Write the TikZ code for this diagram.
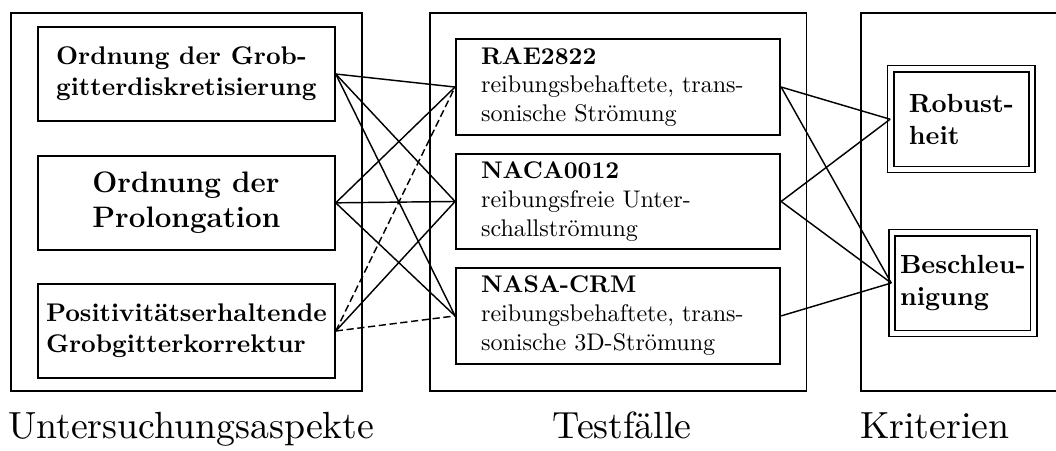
\documentclass[tikz,border=0pt]{standalone}
\usepackage{fontspec}
\usepackage{tikz}
\newfontfamily\titelfont{lmroman10-regular.otf}

\begin{document}
\begin{tikzpicture}[
  frame/.style={draw, line width=0.7pt, minimum width=5.12cm, minimum height=5.52cm},
  aspekt/.style={draw, thick, minimum width=4.33cm, minimum height=1.37cm, align=left, font=\bfseries\fontsize{10.6}{12.8}\selectfont},
  testfall/.style={draw, thick, minimum width=4.73cm, minimum height=1.39cm, text width=4cm, align=left},
  kriterium/.style={draw, semithick, double, double distance=2pt, minimum width=2.06cm, minimum height=1.47cm, align=left, font=\bfseries\fontsize{10.9}{13.4}\selectfont},
  titel/.style={anchor=base, font=\titelfont\fontsize{15.7}{18}\selectfont},
  link/.style={semithick},
  vage/.style={semithick, dash pattern=on 3pt off 1.5pt}
]
  \useasboundingbox (0,0) rectangle (15.41,6.57);

  % Rahmen
  \node[frame] (fa) at (2.72,3.62) {};
  \node[frame, minimum width=5.5cm] (ft) at (9.02,3.62) {};
  \node[frame, minimum width=4.2cm] (fk) at (14.66,3.62) {};

  % Untersuchungsaspekte
  \node[aspekt] (og) at (2.72,5.49) {Ordnung der Grob-\\gitterdiskretisierung};
  \node[aspekt, font=\bfseries\fontsize{12.3}{14.6}\selectfont] (op) at (2.72,3.61) {Ordnung der\\Prolongation};
  \node[aspekt] (ok) at (2.72,1.74) {Positivitätserhaltende\\Grobgitterkorrektur};

  % Testfaelle
  \node[testfall] (rae) at (9.02,5.30) {\textbf{RAE2822}\\reibungsbehaftete, trans-\\sonische Strömung};
  \node[testfall] (naca) at (9.02,3.63) {\textbf{NACA0012}\\reibungsfreie Unter-\\schallströmung};
  \node[testfall] (nasa) at (9.02,1.96) {\textbf{NASA-CRM}\\reibungsbehaftete, trans-\\sonische 3D-Strömung};

  % Kriterien
  \node[kriterium] (rob) at (14.03,4.83) {Robust-\\heit};
  \node[kriterium] (bes) at (14.05,2.44) {Beschleu-\\nigung};

  % Verbindungen
  \draw[link] (og.east) -- (rae.west);
  \draw[link] (og.east) -- (naca.west);
  \draw[link] (og.east) -- (nasa.west);
  \draw[link] (op.east) -- (rae.west);
  \draw[link] (op.east) -- (naca.west);
  \draw[link] (op.east) -- (nasa.west);
  \draw[vage] (ok.east) -- (rae.west);
  \draw[link] (ok.east) -- (naca.west);
  \draw[vage] (ok.east) -- (nasa.west);

  \draw[link] (rae.east) -- (rob.west);
  \draw[link] (rae.east) -- (bes.west);
  \draw[link] (naca.east) -- (rob.west);
  \draw[link] (naca.east) -- (bes.west);
  \draw[link] (nasa.east) -- (bes.west);

  % Titel
  \node[titel] (ta) at (2.79,0.175) {Untersuchungsaspekte};
  \node[titel] (tt) at (9.08,0.175) {Testfälle};
  \node[titel] (tk) at (13.64,0.175) {Kriterien};
\end{tikzpicture}
\end{document}
